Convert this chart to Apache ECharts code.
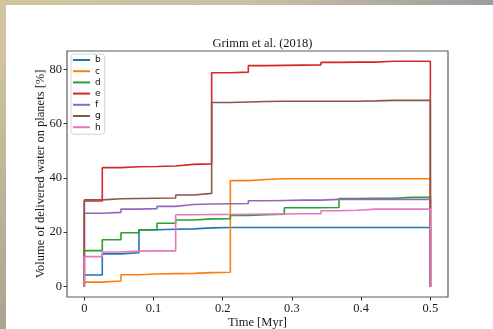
<!DOCTYPE html>
<html>
<head>
<meta charset="utf-8">
<script src="https://cdn.jsdelivr.net/npm/echarts@6/dist/echarts.min.js"></script>
<style>
  html, body { margin: 0; padding: 0; background: #ffffff; }
  #chart { width: 493px; height: 329px; }
</style>
</head>
<body>
<div id="chart"></div>
<script>
// Step times [Myr]; each value holds from its time to the next one
const times = [0, 0.026, 0.053, 0.079, 0.105, 0.132, 0.158, 0.184, 0.211, 0.237,
               0.263, 0.289, 0.316, 0.342, 0.368, 0.395, 0.421, 0.447, 0.474, 0.5];

// Delivered water volume [%] per planet
const planetB = [4.2, 12.0, 12.4, 20.9, 21.1, 21.2, 21.6, 21.7, 21.7, 21.7,
                 21.7, 21.7, 21.7, 21.7, 21.7, 21.7, 21.7, 21.7, 21.7, 21.7];
const planetC = [1.6, 2.0, 4.3, 4.6, 4.7, 4.8, 5.1, 5.2, 39.0, 39.4,
                 39.7, 39.7, 39.7, 39.7, 39.7, 39.7, 39.7, 39.7, 39.7, 39.7];
const planetD = [13.2, 17.2, 19.8, 20.8, 23.3, 24.5, 24.9, 25.0, 26.2, 26.4,
                 26.6, 29.0, 29.0, 29.1, 32.4, 32.5, 32.5, 32.9, 32.9, 32.9];
const planetE = [31.5, 43.8, 44.1, 44.2, 44.4, 45.0, 45.2, 78.8, 79.0, 81.4,
                 81.5, 81.6, 81.7, 82.6, 82.7, 82.7, 83.0, 83.0, 83.0, 83.0];
const planetF = [27.0, 27.3, 28.5, 28.7, 29.5, 30.2, 30.4, 30.5, 30.6, 31.6,
                 31.7, 31.8, 31.8, 32.1, 32.1, 32.1, 32.1, 32.1, 32.1, 32.1];
const planetG = [31.9, 32.3, 32.4, 32.5, 32.6, 33.7, 34.3, 67.8, 68.0, 68.2,
                 68.3, 68.3, 68.3, 68.3, 68.3, 68.4, 68.6, 68.6, 68.6, 68.6];
const planetH = [11.0, 12.7, 13.0, 13.1, 13.1, 26.4, 26.5, 26.5, 26.6, 26.7,
                 26.7, 26.8, 26.8, 27.9, 28.1, 28.5, 28.5, 28.5, 28.5, 28.5];

const planetNames = ['b', 'c', 'd', 'e', 'f', 'g', 'h'];
const planetValues = [planetB, planetC, planetD, planetE, planetF, planetG, planetH];
const planetColors = ['#1f77b4', '#ff7f0e', '#2ca02c', '#d62728', '#9467bd', '#8c564b', '#e377c2'];

const xTicks = [0, 0.1, 0.2, 0.3, 0.4, 0.5];
const yTicks = [0, 20, 40, 60, 80];

const serif = '"Liberation Serif", "DejaVu Serif", serif';

// Each curve starts from 0 at t = 0 and falls back to 0 at the last time
function stepData(vals) {
  const pts = [[times[0], 0]];
  times.forEach((t, i) => pts.push([t, vals[i]]));
  pts.push([times[times.length - 1], 0]);
  return pts;
}

const chart = echarts.init(document.getElementById('chart'), null, { renderer: 'canvas' });

chart.setOption({
  animation: false,
  backgroundColor: 'transparent',
  graphic: [
    {
      type: 'rect', z: -20, silent: true,
      shape: { x: 0, y: 0, width: 493, height: 329 },
      style: {
        fill: new echarts.graphic.LinearGradient(0, 0, 1, 0, [
          { offset: 0, color: '#d2c49e' },
          { offset: 0.5, color: '#c9c0a6' },
          { offset: 1, color: '#9d9d9d' }
        ])
      }
    },
    {
      type: 'rect', z: -19, silent: true,
      shape: { x: 0, y: 60, width: 6, height: 269 },
      style: {
        fill: new echarts.graphic.LinearGradient(0, 0, 0, 1, [
          { offset: 0, color: '#cfc29c' },
          { offset: 1, color: '#a9a494' }
        ])
      }
    },
    {
      type: 'rect', z: -18, silent: true,
      shape: { x: 6, y: 5, width: 487, height: 324 },
      style: { fill: '#ffffff' }
    }
  ],
  title: {
    text: 'Grimm et al. (2018)',
    left: 257.5,
    textAlign: 'center',
    top: 32,
    textStyle: { fontFamily: serif, fontSize: 12.5, fontWeight: 'normal', color: '#1a1a1a' }
  },
  legend: {
    orient: 'vertical',
    left: 71,
    top: 54,
    padding: [0.5, 4, 1.5, 2],
    itemGap: 0.2,
    itemWidth: 17,
    itemHeight: 2,
    itemTextGap: 5,
    icon: 'rect',
    backgroundColor: '#ffffff',
    borderColor: '#d4d4d4',
    borderWidth: 1,
    borderRadius: 3,
    textStyle: { fontFamily: '"DejaVu Sans", sans-serif', fontSize: 9, lineHeight: 11, color: '#111' },
    data: planetNames
  },
  grid: {
    left: 67, right: 45, top: 51, bottom: 32,
    outerBoundsMode: 'none',
    containLabel: false,
    show: true,
    borderColor: '#5a5a5a',
    borderWidth: 1.2,
    backgroundColor: 'transparent'
  },
  xAxis: {
    type: 'value',
    min: -0.025,
    max: 0.5255,
    name: 'Time [Myr]',
    nameLocation: 'middle',
    nameGap: 19,
    nameMoveOverlap: false,
    nameTextStyle: { fontFamily: serif, fontSize: 12.5, color: '#1a1a1a' },
    axisLine: { show: false, onZero: false },
    splitLine: { show: false },
    axisTick: {
      show: true, inside: false, length: 3.5,
      customValues: xTicks,
      lineStyle: { color: '#333', width: 1 }
    },
    axisLabel: {
      customValues: xTicks,
      margin: 5,
      hideOverlap: false,
      fontFamily: serif, fontSize: 12.5, color: '#1a1a1a',
      formatter: v => String(v)
    }
  },
  yAxis: {
    type: 'value',
    min: -3.9,
    max: 86.8,
    name: 'Volume of delivered water on planets [%]',
    nameLocation: 'middle',
    nameGap: 20,
    nameRotate: 90,
    nameMoveOverlap: false,
    nameTextStyle: { fontFamily: serif, fontSize: 12.5, color: '#1a1a1a' },
    axisLine: { show: false, onZero: false },
    splitLine: { show: false },
    axisTick: {
      show: true, inside: false, length: 3.5,
      customValues: yTicks,
      lineStyle: { color: '#333', width: 1 }
    },
    axisLabel: {
      customValues: yTicks,
      margin: 5,
      hideOverlap: false,
      fontFamily: serif, fontSize: 12.5, color: '#1a1a1a',
      formatter: v => String(v)
    }
  },
  series: planetNames.map((name, i) => ({
    name: name,
    type: 'line',
    step: 'end',
    symbol: 'none',
    showSymbol: false,
    color: planetColors[i],
    lineStyle: { color: planetColors[i], width: 1.6 },
    data: stepData(planetValues[i])
  }))
});
</script>
</body>
</html>
